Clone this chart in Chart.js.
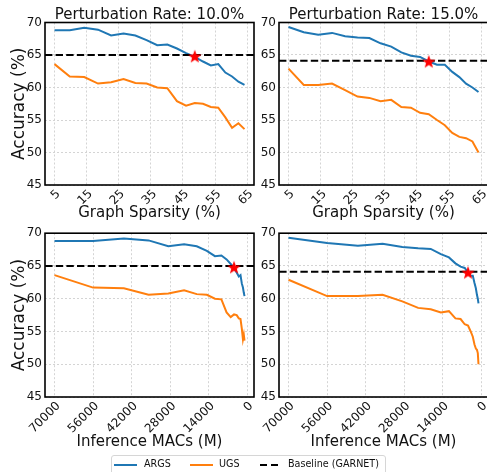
<!DOCTYPE html>
<html>
<head>
<meta charset="utf-8">
<script src="https://cdn.jsdelivr.net/npm/chart.js@4.4.0/dist/chart.umd.min.js"></script>
<style>
  html, body { margin: 0; padding: 0; background: #fff; overflow: hidden; }
  body { width: 487px; height: 472px; position: relative; font-family: 'DejaVu Sans', sans-serif; }
  canvas { position: absolute; }
  #legend { position: absolute; left: 111px; top: 455px; width: 273px; height: 20px;
            border: 1px solid #d6d6d6; border-radius: 3px; font-size: 9.6px; color: #111; }
  #legend .sw { position: absolute; top: 8px; height: 0; }
  #legend .lb { position: absolute; top: 2px; white-space: nowrap; }
</style>
</head>
<body>
<canvas id="p1" width="268" height="230" style="left:0px;top:0px"></canvas>
<canvas id="p2" width="268" height="230" style="left:234px;top:0px"></canvas>
<canvas id="p3" width="268" height="235" style="left:0px;top:223px"></canvas>
<canvas id="p4" width="268" height="235" style="left:234px;top:223px"></canvas>
<div id="legend"></div>
<script>
// x positions: graph sparsity per pruning round, and the matching inference MACs
const sparsity = [5, 9.75, 14.26, 18.55, 22.62, 26.49, 30.17, 33.66, 36.98, 40.13, 43.12, 45.96, 48.67, 51.23, 53.67, 55.99, 58.19, 60.28, 62.26, 64.15];
const macs = [70000, 56000, 44800, 35840, 28672, 22938, 18350, 14680, 11744, 9395, 7516, 6013, 4810, 3848, 3079, 2463, 1970, 1576, 1261, 1009];

// accuracy (%) at perturbation rate 10% and 15%
const args10 = [68.8, 68.8, 69.2, 68.9, 68.0, 68.3, 68.0, 67.3, 66.5, 66.6, 66.0, 65.3, 64.7, 64.0, 63.4, 63.6, 62.3, 61.7, 60.9, 60.4];
const ugs10 = [63.6, 61.7, 61.6, 60.6, 60.8, 61.3, 60.7, 60.6, 60.0, 59.9, 57.9, 57.2, 57.6, 57.5, 57.0, 56.9, 55.4, 53.8, 54.5, 53.6];
const args15 = [69.3, 68.5, 68.1, 68.4, 67.9, 67.7, 67.6, 66.8, 66.3, 65.4, 64.9, 64.7, 64.0, 63.5, 63.5, 62.4, 61.6, 60.6, 60.0, 59.3];
const ugs15 = [62.9, 60.4, 60.4, 60.6, 59.6, 58.6, 58.4, 57.9, 58.1, 57.0, 56.9, 56.1, 55.9, 55.0, 54.2, 53.0, 52.4, 52.2, 51.7, 50.0];

const baseline = [65.0, 64.1];      // GARNET
const starAcc = [64.8, 64.0];       // red star marks the round where ARGS meets the baseline
const starRound = 12;

const titles = ['Perturbation Rate: 10.0%', 'Perturbation Rate: 15.0%'];
const sparsityTicks = [5, 15, 25, 35, 45, 55, 65];
const macTicks = [70000, 56000, 42000, 28000, 14000, 0];
const accTicks = [45, 50, 55, 60, 65, 70];
const sparsityRange = [2.04, 67.11];
const macRange = [-2440, 73450];

const seriesNames = ['ARGS', 'UGS', 'Baseline (GARNET)'];
const seriesColors = ['#1f77b4', '#ff7f0e', '#000000'];

const FONT = "'DejaVu Sans', sans-serif";
const TXT = '#111';

function starImage(size, color) {
    const c = document.createElement('canvas');
    c.width = c.height = size;
    const g = c.getContext('2d');
    const r = size / 2, ri = r * 0.42;
    g.beginPath();
    for (let i = 0; i < 10; i++) {
        const a = -Math.PI / 2 + i * Math.PI / 5;
        const rr = i % 2 ? ri : r;
        g.lineTo(r + rr * Math.cos(a), r + 0.6 + rr * Math.sin(a));
    }
    g.closePath();
    g.fillStyle = color;
    g.fill();
    return c;
}
const star = starImage(14, '#ff0000');

const framePlugin = {
    id: 'frame',
    afterDraw(chart) {
        const a = chart.chartArea;
        const ctx = chart.ctx;
        ctx.save();
        ctx.strokeStyle = '#000';
        ctx.lineWidth = 1.6;
        ctx.strokeRect(a.left, a.top, a.right - a.left, a.bottom - a.top);
        ctx.restore();
    }
};

function makePanel(id, p) {
    const xs = p.xs;
    const pts = ys => xs.map((x, i) => ({x: x, y: ys[i]}));
    const ctx = document.getElementById(id).getContext('2d');
    return new Chart(ctx, {
        type: 'line',
        data: {
            datasets: [
                {label: 'star', data: [{x: xs[starRound], y: starAcc[p.k]}], showLine: false,
                 pointStyle: star, pointRadius: 7, order: 0},
                {label: seriesNames[2], data: [{x: p.range[0], y: baseline[p.k]}, {x: p.range[1], y: baseline[p.k]}],
                 borderColor: seriesColors[2], borderWidth: 2, borderDash: [7.4, 3.2], pointRadius: 0, order: 1},
                {label: seriesNames[1], data: pts(p.ugs), borderColor: seriesColors[1], borderWidth: 2,
                 pointRadius: 0, tension: 0, order: 2},
                {label: seriesNames[0], data: pts(p.args), borderColor: seriesColors[0], borderWidth: 2,
                 pointRadius: 0, tension: 0, order: 3}
            ]
        },
        options: {
            responsive: false,
            animation: false,
            events: [],
            layout: {padding: {left: 0, right: 14, top: p.title ? 0 : 10, bottom: 5}},
            plugins: {
                legend: {display: false},
                tooltip: {enabled: false},
                title: {
                    display: !!p.title, text: p.title || '', fullSize: false, color: TXT,
                    font: {family: FONT, size: 15, weight: 'normal', lineHeight: 1},
                    padding: {top: 7.5, bottom: 0}
                }
            },
            scales: {
                x: {
                    type: 'linear',
                    min: p.range[0], max: p.range[1], reverse: !!p.reverse,
                    afterBuildTicks: s => { s.ticks = p.ticks.map(v => ({value: v})); },
                    afterFit: s => { s.height = p.xh; },
                    ticks: {autoSkip: false, minRotation: 45, maxRotation: 45, padding: 2, labelOffset: 4,
                            color: TXT, font: {family: FONT, size: 12}, callback: v => String(v)},
                    grid: {color: '#d4d4d4', lineWidth: 1, drawTicks: false},
                    border: {display: false, dash: [2, 2]},
                    title: {display: true, text: p.xlabel, color: TXT,
                            font: {family: FONT, size: 15}, padding: {top: 0, bottom: p.xpad}}
                },
                y: {
                    min: 45, max: 70,
                    afterBuildTicks: s => { s.ticks = accTicks.map(v => ({value: v})); },
                    afterFit: s => { s.width = 45; },
                    ticks: {padding: 3, color: TXT, font: {family: FONT, size: 12}},
                    grid: {color: '#d4d4d4', lineWidth: 1, drawTicks: false},
                    border: {display: false, dash: [2, 2]},
                    title: {display: !!p.ylabel, text: 'Accuracy (%)', color: TXT,
                            font: {family: FONT, size: 17}, padding: {top: 9, bottom: 0}}
                }
            }
        },
        plugins: [framePlugin]
    });
}

makePanel('p1', {k: 0, xs: sparsity, args: args10, ugs: ugs10, title: titles[0], ylabel: true,
                 range: sparsityRange, ticks: sparsityTicks, xlabel: 'Graph Sparsity (%)', xh: 40, xpad: 3});
makePanel('p2', {k: 1, xs: sparsity, args: args15, ugs: ugs15, title: titles[1], ylabel: false,
                 range: sparsityRange, ticks: sparsityTicks, xlabel: 'Graph Sparsity (%)', xh: 40, xpad: 3});
makePanel('p3', {k: 0, xs: macs, args: args10, ugs: ugs10, ylabel: true, reverse: true,
                 range: macRange, ticks: macTicks, xlabel: 'Inference MACs (M)', xh: 56, xpad: 1.5});
makePanel('p4', {k: 1, xs: macs, args: args15, ugs: ugs15, ylabel: false, reverse: true,
                 range: macRange, ticks: macTicks, xlabel: 'Inference MACs (M)', xh: 56, xpad: 1.5});

// shared legend under the four panels
const legend = document.getElementById('legend');
const swatchLeft = [2, 78, 148];
const labelLeft = [32, 107, 176];
seriesNames.forEach((name, i) => {
    const sw = document.createElement('div');
    sw.className = 'sw';
    sw.style.left = swatchLeft[i] + 'px';
    if (i < 2) {
        sw.style.width = '22.5px';
        sw.style.borderTop = '2px solid ' + seriesColors[i];
    } else {
        sw.style.width = '18px';
        sw.style.height = '2px';
        sw.style.background = 'linear-gradient(to right, ' + seriesColors[i] + ' 0 7.4px, transparent 7.4px 10.6px, ' + seriesColors[i] + ' 10.6px 18px)';
    }
    legend.appendChild(sw);
    const lb = document.createElement('div');
    lb.className = 'lb';
    lb.style.left = labelLeft[i] + 'px';
    lb.textContent = name;
    legend.appendChild(lb);
});
</script>
</body>
</html>
